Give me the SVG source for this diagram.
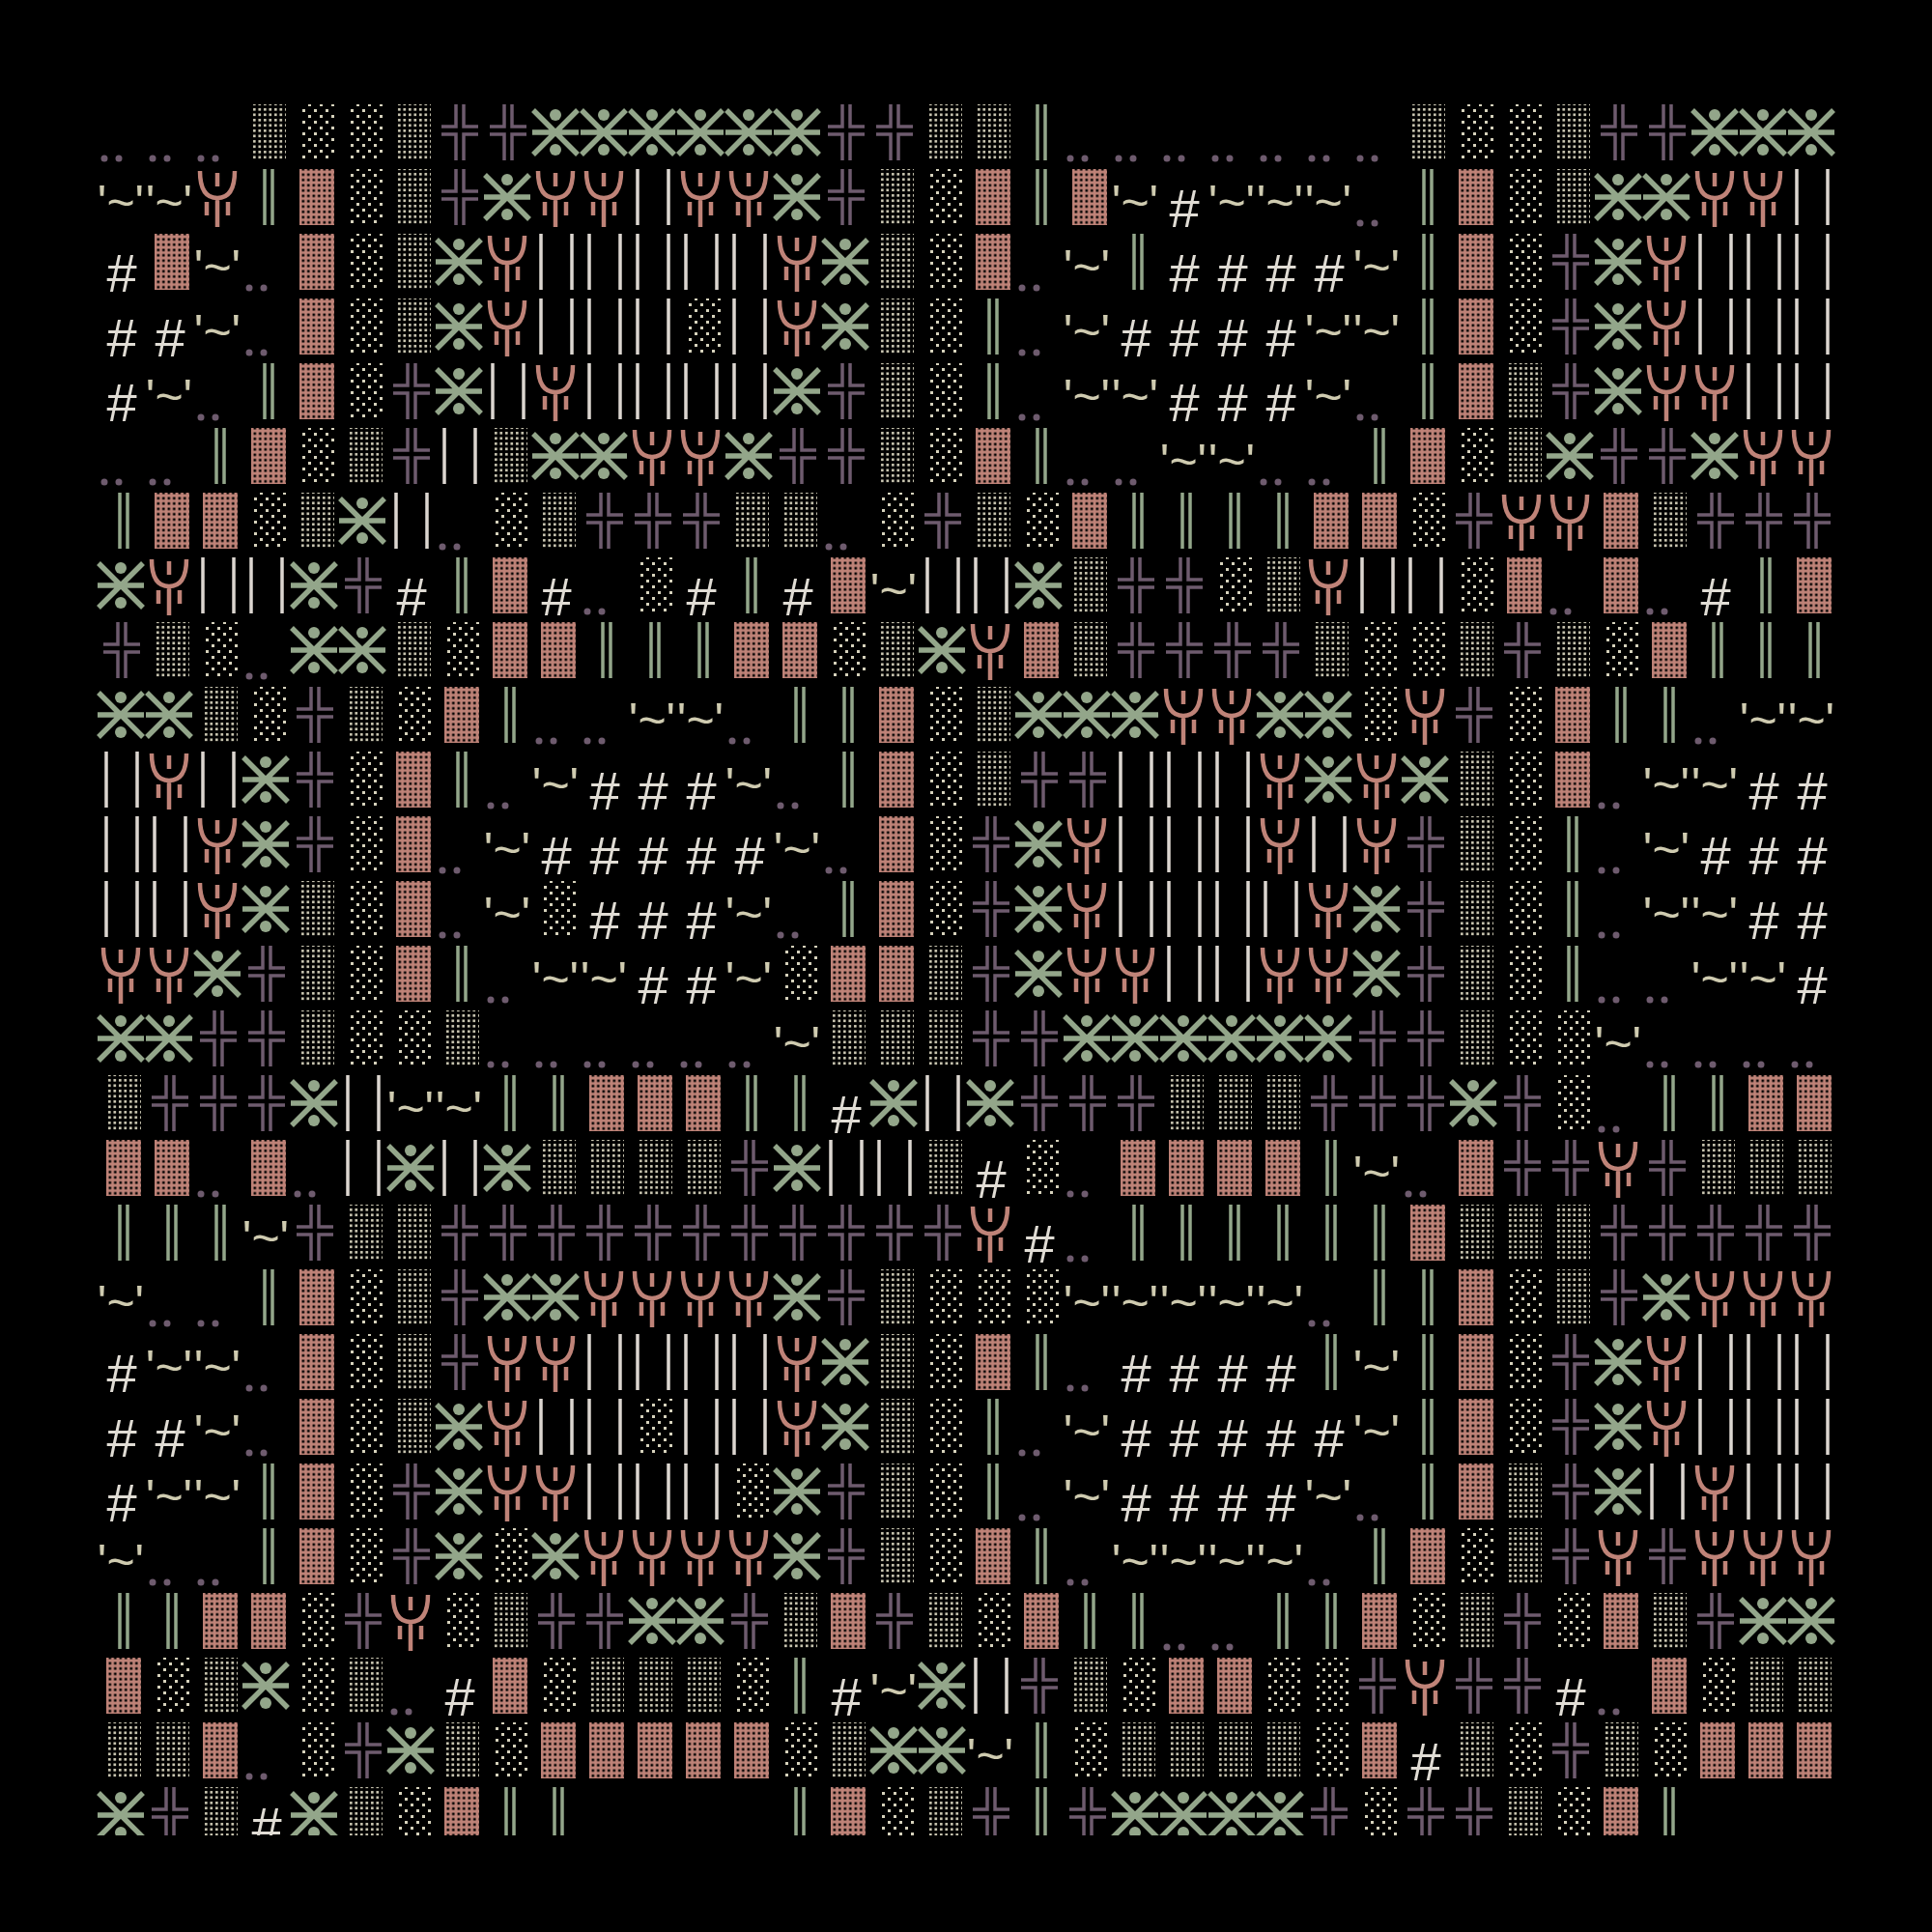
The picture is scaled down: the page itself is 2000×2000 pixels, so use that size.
<svg xmlns="http://www.w3.org/2000/svg" xmlns:xlink="http://www.w3.org/1999/xlink" width="2000" height="2000" viewBox="0 0 2000 2000">
<style>
.t{font-family:"Liberation Sans",Arial,sans-serif;font-size:50px;fill:#cfcbb0}
.h{font-family:"Liberation Sans",Arial,sans-serif;font-size:56px;fill:#e0dcd4}
</style>
<defs>
<pattern id="pd" patternUnits="userSpaceOnUse" width="5.5" height="5.5"><rect x="1" y="1" width="2.6" height="2.6" fill="#d6d2bc"/></pattern>
<pattern id="ps" patternUnits="userSpaceOnUse" width="12" height="12"><rect x="1" y="1" width="3" height="3" fill="#d6d2bc"/><rect x="7" y="7" width="3" height="3" fill="#d6d2bc"/></pattern>
<pattern id="pp" patternUnits="userSpaceOnUse" width="5.5" height="5.5"><rect width="5.5" height="5.5" fill="#bf8378"/><rect x="1.5" y="1.5" width="2.6" height="2.6" fill="#000"/></pattern>
<clipPath id="cl"><rect x="100" y="100" width="1800" height="1800"/></clipPath>
<g id="d"><rect x="10" y="8" width="36" height="58" fill="url(#pd)"/></g>
<g id="s"><rect x="10" y="8" width="36" height="58" fill="url(#ps)"/></g>
<g id="P"><rect x="10" y="8" width="36" height="58" fill="url(#pp)"/></g>
<g id="H" fill="none" stroke="#6e5b6e" stroke-width="3.5"><path d="M22 8V31H7M30 8V31H45M7 39H22V66M45 39H30V66"/></g>
<g id="X" stroke="#93a68a" stroke-width="5.5" fill="#93a68a"><path d="M2 14L48 60M48 14L2 60M1 37H49"/><circle cx="25" cy="19" r="6" stroke="none"/><circle cx="25" cy="55" r="6" stroke="none"/></g>
<g id="Y" stroke="#bf8378" stroke-width="4.5" fill="none"><path d="M7 10Q7 38 25 38Q43 38 43 10M25 38V68M25 12V26M14 42V56M36 42V56"/></g>
<g id="G" stroke="#93a68a" stroke-width="3.5"><path d="M24 8V66M32 8V66"/></g>
<g id="I" stroke="#dcd6d0" stroke-width="3.5"><path d="M10 8V66M42 8V66"/></g>
<g id="o" fill="#6e5b6e"><circle cx="8" cy="64" r="3.5"/><circle cx="23" cy="64" r="3.5"/></g>
<g id="T"><text class="t" x="25" y="60" text-anchor="middle">'~'</text></g>
<g id="S"><text class="h" x="26" y="68" text-anchor="middle">#</text></g>
</defs>
<rect width="2000" height="2000" fill="#000"/>
<g clip-path="url(#cl)">
<g transform="translate(100,100)"><use href="#o" x="0"/><use href="#o" x="50"/><use href="#o" x="100"/><use href="#d" x="150"/><use href="#s" x="200"/><use href="#s" x="250"/><use href="#d" x="300"/><use href="#H" x="350"/><use href="#H" x="400"/><use href="#X" x="450"/><use href="#X" x="500"/><use href="#X" x="550"/><use href="#X" x="600"/><use href="#X" x="650"/><use href="#X" x="700"/><use href="#H" x="750"/><use href="#H" x="800"/><use href="#d" x="850"/><use href="#d" x="900"/><use href="#G" x="950"/><use href="#o" x="1000"/><use href="#o" x="1050"/><use href="#o" x="1100"/><use href="#o" x="1150"/><use href="#o" x="1200"/><use href="#o" x="1250"/><use href="#o" x="1300"/><use href="#d" x="1350"/><use href="#s" x="1400"/><use href="#s" x="1450"/><use href="#d" x="1500"/><use href="#H" x="1550"/><use href="#H" x="1600"/><use href="#X" x="1650"/><use href="#X" x="1700"/><use href="#X" x="1750"/></g>
<g transform="translate(100,167)"><use href="#T" x="0"/><use href="#T" x="50"/><use href="#Y" x="100"/><use href="#G" x="150"/><use href="#P" x="200"/><use href="#s" x="250"/><use href="#d" x="300"/><use href="#H" x="350"/><use href="#X" x="400"/><use href="#Y" x="450"/><use href="#Y" x="500"/><use href="#I" x="550"/><use href="#Y" x="600"/><use href="#Y" x="650"/><use href="#X" x="700"/><use href="#H" x="750"/><use href="#d" x="800"/><use href="#s" x="850"/><use href="#P" x="900"/><use href="#G" x="950"/><use href="#P" x="1000"/><use href="#T" x="1050"/><use href="#S" x="1100"/><use href="#T" x="1150"/><use href="#T" x="1200"/><use href="#T" x="1250"/><use href="#o" x="1300"/><use href="#G" x="1350"/><use href="#P" x="1400"/><use href="#s" x="1450"/><use href="#d" x="1500"/><use href="#X" x="1550"/><use href="#X" x="1600"/><use href="#Y" x="1650"/><use href="#Y" x="1700"/><use href="#I" x="1750"/></g>
<g transform="translate(100,234)"><use href="#S" x="0"/><use href="#P" x="50"/><use href="#T" x="100"/><use href="#o" x="150"/><use href="#P" x="200"/><use href="#s" x="250"/><use href="#d" x="300"/><use href="#X" x="350"/><use href="#Y" x="400"/><use href="#I" x="450"/><use href="#I" x="500"/><use href="#I" x="550"/><use href="#I" x="600"/><use href="#I" x="650"/><use href="#Y" x="700"/><use href="#X" x="750"/><use href="#d" x="800"/><use href="#s" x="850"/><use href="#P" x="900"/><use href="#o" x="950"/><use href="#T" x="1000"/><use href="#G" x="1050"/><use href="#S" x="1100"/><use href="#S" x="1150"/><use href="#S" x="1200"/><use href="#S" x="1250"/><use href="#T" x="1300"/><use href="#G" x="1350"/><use href="#P" x="1400"/><use href="#s" x="1450"/><use href="#H" x="1500"/><use href="#X" x="1550"/><use href="#Y" x="1600"/><use href="#I" x="1650"/><use href="#I" x="1700"/><use href="#I" x="1750"/></g>
<g transform="translate(100,301)"><use href="#S" x="0"/><use href="#S" x="50"/><use href="#T" x="100"/><use href="#o" x="150"/><use href="#P" x="200"/><use href="#s" x="250"/><use href="#d" x="300"/><use href="#X" x="350"/><use href="#Y" x="400"/><use href="#I" x="450"/><use href="#I" x="500"/><use href="#I" x="550"/><use href="#s" x="600"/><use href="#I" x="650"/><use href="#Y" x="700"/><use href="#X" x="750"/><use href="#d" x="800"/><use href="#s" x="850"/><use href="#G" x="900"/><use href="#o" x="950"/><use href="#T" x="1000"/><use href="#S" x="1050"/><use href="#S" x="1100"/><use href="#S" x="1150"/><use href="#S" x="1200"/><use href="#T" x="1250"/><use href="#T" x="1300"/><use href="#G" x="1350"/><use href="#P" x="1400"/><use href="#s" x="1450"/><use href="#H" x="1500"/><use href="#X" x="1550"/><use href="#Y" x="1600"/><use href="#I" x="1650"/><use href="#I" x="1700"/><use href="#I" x="1750"/></g>
<g transform="translate(100,368)"><use href="#S" x="0"/><use href="#T" x="50"/><use href="#o" x="100"/><use href="#G" x="150"/><use href="#P" x="200"/><use href="#s" x="250"/><use href="#H" x="300"/><use href="#X" x="350"/><use href="#I" x="400"/><use href="#Y" x="450"/><use href="#I" x="500"/><use href="#I" x="550"/><use href="#I" x="600"/><use href="#I" x="650"/><use href="#X" x="700"/><use href="#H" x="750"/><use href="#d" x="800"/><use href="#s" x="850"/><use href="#G" x="900"/><use href="#o" x="950"/><use href="#T" x="1000"/><use href="#T" x="1050"/><use href="#S" x="1100"/><use href="#S" x="1150"/><use href="#S" x="1200"/><use href="#T" x="1250"/><use href="#o" x="1300"/><use href="#G" x="1350"/><use href="#P" x="1400"/><use href="#d" x="1450"/><use href="#H" x="1500"/><use href="#X" x="1550"/><use href="#Y" x="1600"/><use href="#Y" x="1650"/><use href="#I" x="1700"/><use href="#I" x="1750"/></g>
<g transform="translate(100,435)"><use href="#o" x="0"/><use href="#o" x="50"/><use href="#G" x="100"/><use href="#P" x="150"/><use href="#s" x="200"/><use href="#d" x="250"/><use href="#H" x="300"/><use href="#I" x="350"/><use href="#d" x="400"/><use href="#X" x="450"/><use href="#X" x="500"/><use href="#Y" x="550"/><use href="#Y" x="600"/><use href="#X" x="650"/><use href="#H" x="700"/><use href="#H" x="750"/><use href="#d" x="800"/><use href="#s" x="850"/><use href="#P" x="900"/><use href="#G" x="950"/><use href="#o" x="1000"/><use href="#o" x="1050"/><use href="#T" x="1100"/><use href="#T" x="1150"/><use href="#o" x="1200"/><use href="#o" x="1250"/><use href="#G" x="1300"/><use href="#P" x="1350"/><use href="#s" x="1400"/><use href="#d" x="1450"/><use href="#X" x="1500"/><use href="#H" x="1550"/><use href="#H" x="1600"/><use href="#X" x="1650"/><use href="#Y" x="1700"/><use href="#Y" x="1750"/></g>
<g transform="translate(100,502)"><use href="#G" x="0"/><use href="#P" x="50"/><use href="#P" x="100"/><use href="#s" x="150"/><use href="#d" x="200"/><use href="#X" x="250"/><use href="#I" x="300"/><use href="#o" x="350"/><use href="#s" x="400"/><use href="#d" x="450"/><use href="#H" x="500"/><use href="#H" x="550"/><use href="#H" x="600"/><use href="#d" x="650"/><use href="#d" x="700"/><use href="#o" x="750"/><use href="#s" x="800"/><use href="#H" x="850"/><use href="#d" x="900"/><use href="#s" x="950"/><use href="#P" x="1000"/><use href="#G" x="1050"/><use href="#G" x="1100"/><use href="#G" x="1150"/><use href="#G" x="1200"/><use href="#P" x="1250"/><use href="#P" x="1300"/><use href="#s" x="1350"/><use href="#H" x="1400"/><use href="#Y" x="1450"/><use href="#Y" x="1500"/><use href="#P" x="1550"/><use href="#d" x="1600"/><use href="#H" x="1650"/><use href="#H" x="1700"/><use href="#H" x="1750"/></g>
<g transform="translate(100,569)"><use href="#X" x="0"/><use href="#Y" x="50"/><use href="#I" x="100"/><use href="#I" x="150"/><use href="#X" x="200"/><use href="#H" x="250"/><use href="#S" x="300"/><use href="#G" x="350"/><use href="#P" x="400"/><use href="#S" x="450"/><use href="#o" x="500"/><use href="#s" x="550"/><use href="#S" x="600"/><use href="#G" x="650"/><use href="#S" x="700"/><use href="#P" x="750"/><use href="#T" x="800"/><use href="#I" x="850"/><use href="#I" x="900"/><use href="#X" x="950"/><use href="#d" x="1000"/><use href="#H" x="1050"/><use href="#H" x="1100"/><use href="#s" x="1150"/><use href="#d" x="1200"/><use href="#Y" x="1250"/><use href="#I" x="1300"/><use href="#I" x="1350"/><use href="#s" x="1400"/><use href="#P" x="1450"/><use href="#o" x="1500"/><use href="#P" x="1550"/><use href="#o" x="1600"/><use href="#S" x="1650"/><use href="#G" x="1700"/><use href="#P" x="1750"/></g>
<g transform="translate(100,636)"><use href="#H" x="0"/><use href="#d" x="50"/><use href="#s" x="100"/><use href="#o" x="150"/><use href="#X" x="200"/><use href="#X" x="250"/><use href="#d" x="300"/><use href="#s" x="350"/><use href="#P" x="400"/><use href="#P" x="450"/><use href="#G" x="500"/><use href="#G" x="550"/><use href="#G" x="600"/><use href="#P" x="650"/><use href="#P" x="700"/><use href="#s" x="750"/><use href="#d" x="800"/><use href="#X" x="850"/><use href="#Y" x="900"/><use href="#P" x="950"/><use href="#d" x="1000"/><use href="#H" x="1050"/><use href="#H" x="1100"/><use href="#H" x="1150"/><use href="#H" x="1200"/><use href="#d" x="1250"/><use href="#s" x="1300"/><use href="#s" x="1350"/><use href="#d" x="1400"/><use href="#H" x="1450"/><use href="#d" x="1500"/><use href="#s" x="1550"/><use href="#P" x="1600"/><use href="#G" x="1650"/><use href="#G" x="1700"/><use href="#G" x="1750"/></g>
<g transform="translate(100,703)"><use href="#X" x="0"/><use href="#X" x="50"/><use href="#d" x="100"/><use href="#s" x="150"/><use href="#H" x="200"/><use href="#d" x="250"/><use href="#s" x="300"/><use href="#P" x="350"/><use href="#G" x="400"/><use href="#o" x="450"/><use href="#o" x="500"/><use href="#T" x="550"/><use href="#T" x="600"/><use href="#o" x="650"/><use href="#G" x="700"/><use href="#G" x="750"/><use href="#P" x="800"/><use href="#s" x="850"/><use href="#d" x="900"/><use href="#X" x="950"/><use href="#X" x="1000"/><use href="#X" x="1050"/><use href="#Y" x="1100"/><use href="#Y" x="1150"/><use href="#X" x="1200"/><use href="#X" x="1250"/><use href="#s" x="1300"/><use href="#Y" x="1350"/><use href="#H" x="1400"/><use href="#s" x="1450"/><use href="#P" x="1500"/><use href="#G" x="1550"/><use href="#G" x="1600"/><use href="#o" x="1650"/><use href="#T" x="1700"/><use href="#T" x="1750"/></g>
<g transform="translate(100,770)"><use href="#I" x="0"/><use href="#Y" x="50"/><use href="#I" x="100"/><use href="#X" x="150"/><use href="#H" x="200"/><use href="#s" x="250"/><use href="#P" x="300"/><use href="#G" x="350"/><use href="#o" x="400"/><use href="#T" x="450"/><use href="#S" x="500"/><use href="#S" x="550"/><use href="#S" x="600"/><use href="#T" x="650"/><use href="#o" x="700"/><use href="#G" x="750"/><use href="#P" x="800"/><use href="#s" x="850"/><use href="#d" x="900"/><use href="#H" x="950"/><use href="#H" x="1000"/><use href="#I" x="1050"/><use href="#I" x="1100"/><use href="#I" x="1150"/><use href="#Y" x="1200"/><use href="#X" x="1250"/><use href="#Y" x="1300"/><use href="#X" x="1350"/><use href="#d" x="1400"/><use href="#s" x="1450"/><use href="#P" x="1500"/><use href="#o" x="1550"/><use href="#T" x="1600"/><use href="#T" x="1650"/><use href="#S" x="1700"/><use href="#S" x="1750"/></g>
<g transform="translate(100,837)"><use href="#I" x="0"/><use href="#I" x="50"/><use href="#Y" x="100"/><use href="#X" x="150"/><use href="#H" x="200"/><use href="#s" x="250"/><use href="#P" x="300"/><use href="#o" x="350"/><use href="#T" x="400"/><use href="#S" x="450"/><use href="#S" x="500"/><use href="#S" x="550"/><use href="#S" x="600"/><use href="#S" x="650"/><use href="#T" x="700"/><use href="#o" x="750"/><use href="#P" x="800"/><use href="#s" x="850"/><use href="#H" x="900"/><use href="#X" x="950"/><use href="#Y" x="1000"/><use href="#I" x="1050"/><use href="#I" x="1100"/><use href="#I" x="1150"/><use href="#Y" x="1200"/><use href="#I" x="1250"/><use href="#Y" x="1300"/><use href="#H" x="1350"/><use href="#d" x="1400"/><use href="#s" x="1450"/><use href="#G" x="1500"/><use href="#o" x="1550"/><use href="#T" x="1600"/><use href="#S" x="1650"/><use href="#S" x="1700"/><use href="#S" x="1750"/></g>
<g transform="translate(100,904)"><use href="#I" x="0"/><use href="#I" x="50"/><use href="#Y" x="100"/><use href="#X" x="150"/><use href="#d" x="200"/><use href="#s" x="250"/><use href="#P" x="300"/><use href="#o" x="350"/><use href="#T" x="400"/><use href="#s" x="450"/><use href="#S" x="500"/><use href="#S" x="550"/><use href="#S" x="600"/><use href="#T" x="650"/><use href="#o" x="700"/><use href="#G" x="750"/><use href="#P" x="800"/><use href="#s" x="850"/><use href="#H" x="900"/><use href="#X" x="950"/><use href="#Y" x="1000"/><use href="#I" x="1050"/><use href="#I" x="1100"/><use href="#I" x="1150"/><use href="#I" x="1200"/><use href="#Y" x="1250"/><use href="#X" x="1300"/><use href="#H" x="1350"/><use href="#d" x="1400"/><use href="#s" x="1450"/><use href="#G" x="1500"/><use href="#o" x="1550"/><use href="#T" x="1600"/><use href="#T" x="1650"/><use href="#S" x="1700"/><use href="#S" x="1750"/></g>
<g transform="translate(100,971)"><use href="#Y" x="0"/><use href="#Y" x="50"/><use href="#X" x="100"/><use href="#H" x="150"/><use href="#d" x="200"/><use href="#s" x="250"/><use href="#P" x="300"/><use href="#G" x="350"/><use href="#o" x="400"/><use href="#T" x="450"/><use href="#T" x="500"/><use href="#S" x="550"/><use href="#S" x="600"/><use href="#T" x="650"/><use href="#s" x="700"/><use href="#P" x="750"/><use href="#P" x="800"/><use href="#d" x="850"/><use href="#H" x="900"/><use href="#X" x="950"/><use href="#Y" x="1000"/><use href="#Y" x="1050"/><use href="#I" x="1100"/><use href="#I" x="1150"/><use href="#Y" x="1200"/><use href="#Y" x="1250"/><use href="#X" x="1300"/><use href="#H" x="1350"/><use href="#d" x="1400"/><use href="#s" x="1450"/><use href="#G" x="1500"/><use href="#o" x="1550"/><use href="#o" x="1600"/><use href="#T" x="1650"/><use href="#T" x="1700"/><use href="#S" x="1750"/></g>
<g transform="translate(100,1038)"><use href="#X" x="0"/><use href="#X" x="50"/><use href="#H" x="100"/><use href="#H" x="150"/><use href="#d" x="200"/><use href="#s" x="250"/><use href="#s" x="300"/><use href="#d" x="350"/><use href="#o" x="400"/><use href="#o" x="450"/><use href="#o" x="500"/><use href="#o" x="550"/><use href="#o" x="600"/><use href="#o" x="650"/><use href="#T" x="700"/><use href="#d" x="750"/><use href="#d" x="800"/><use href="#d" x="850"/><use href="#H" x="900"/><use href="#H" x="950"/><use href="#X" x="1000"/><use href="#X" x="1050"/><use href="#X" x="1100"/><use href="#X" x="1150"/><use href="#X" x="1200"/><use href="#X" x="1250"/><use href="#H" x="1300"/><use href="#H" x="1350"/><use href="#d" x="1400"/><use href="#s" x="1450"/><use href="#s" x="1500"/><use href="#T" x="1550"/><use href="#o" x="1600"/><use href="#o" x="1650"/><use href="#o" x="1700"/><use href="#o" x="1750"/></g>
<g transform="translate(100,1105)"><use href="#d" x="0"/><use href="#H" x="50"/><use href="#H" x="100"/><use href="#H" x="150"/><use href="#X" x="200"/><use href="#I" x="250"/><use href="#T" x="300"/><use href="#T" x="350"/><use href="#G" x="400"/><use href="#G" x="450"/><use href="#P" x="500"/><use href="#P" x="550"/><use href="#P" x="600"/><use href="#G" x="650"/><use href="#G" x="700"/><use href="#S" x="750"/><use href="#X" x="800"/><use href="#I" x="850"/><use href="#X" x="900"/><use href="#H" x="950"/><use href="#H" x="1000"/><use href="#H" x="1050"/><use href="#d" x="1100"/><use href="#d" x="1150"/><use href="#d" x="1200"/><use href="#H" x="1250"/><use href="#H" x="1300"/><use href="#H" x="1350"/><use href="#X" x="1400"/><use href="#H" x="1450"/><use href="#s" x="1500"/><use href="#o" x="1550"/><use href="#G" x="1600"/><use href="#G" x="1650"/><use href="#P" x="1700"/><use href="#P" x="1750"/></g>
<g transform="translate(100,1172)"><use href="#P" x="0"/><use href="#P" x="50"/><use href="#o" x="100"/><use href="#P" x="150"/><use href="#o" x="200"/><use href="#I" x="250"/><use href="#X" x="300"/><use href="#I" x="350"/><use href="#X" x="400"/><use href="#d" x="450"/><use href="#d" x="500"/><use href="#d" x="550"/><use href="#d" x="600"/><use href="#H" x="650"/><use href="#X" x="700"/><use href="#I" x="750"/><use href="#I" x="800"/><use href="#d" x="850"/><use href="#S" x="900"/><use href="#s" x="950"/><use href="#o" x="1000"/><use href="#P" x="1050"/><use href="#P" x="1100"/><use href="#P" x="1150"/><use href="#P" x="1200"/><use href="#G" x="1250"/><use href="#T" x="1300"/><use href="#o" x="1350"/><use href="#P" x="1400"/><use href="#H" x="1450"/><use href="#H" x="1500"/><use href="#Y" x="1550"/><use href="#H" x="1600"/><use href="#d" x="1650"/><use href="#d" x="1700"/><use href="#d" x="1750"/></g>
<g transform="translate(100,1239)"><use href="#G" x="0"/><use href="#G" x="50"/><use href="#G" x="100"/><use href="#T" x="150"/><use href="#H" x="200"/><use href="#d" x="250"/><use href="#d" x="300"/><use href="#H" x="350"/><use href="#H" x="400"/><use href="#H" x="450"/><use href="#H" x="500"/><use href="#H" x="550"/><use href="#H" x="600"/><use href="#H" x="650"/><use href="#H" x="700"/><use href="#H" x="750"/><use href="#H" x="800"/><use href="#H" x="850"/><use href="#Y" x="900"/><use href="#S" x="950"/><use href="#o" x="1000"/><use href="#G" x="1050"/><use href="#G" x="1100"/><use href="#G" x="1150"/><use href="#G" x="1200"/><use href="#G" x="1250"/><use href="#G" x="1300"/><use href="#P" x="1350"/><use href="#d" x="1400"/><use href="#d" x="1450"/><use href="#d" x="1500"/><use href="#H" x="1550"/><use href="#H" x="1600"/><use href="#H" x="1650"/><use href="#H" x="1700"/><use href="#H" x="1750"/></g>
<g transform="translate(100,1306)"><use href="#T" x="0"/><use href="#o" x="50"/><use href="#o" x="100"/><use href="#G" x="150"/><use href="#P" x="200"/><use href="#s" x="250"/><use href="#d" x="300"/><use href="#H" x="350"/><use href="#X" x="400"/><use href="#X" x="450"/><use href="#Y" x="500"/><use href="#Y" x="550"/><use href="#Y" x="600"/><use href="#Y" x="650"/><use href="#X" x="700"/><use href="#H" x="750"/><use href="#d" x="800"/><use href="#s" x="850"/><use href="#s" x="900"/><use href="#s" x="950"/><use href="#T" x="1000"/><use href="#T" x="1050"/><use href="#T" x="1100"/><use href="#T" x="1150"/><use href="#T" x="1200"/><use href="#o" x="1250"/><use href="#G" x="1300"/><use href="#G" x="1350"/><use href="#P" x="1400"/><use href="#s" x="1450"/><use href="#d" x="1500"/><use href="#H" x="1550"/><use href="#X" x="1600"/><use href="#Y" x="1650"/><use href="#Y" x="1700"/><use href="#Y" x="1750"/></g>
<g transform="translate(100,1373)"><use href="#S" x="0"/><use href="#T" x="50"/><use href="#T" x="100"/><use href="#o" x="150"/><use href="#P" x="200"/><use href="#s" x="250"/><use href="#d" x="300"/><use href="#H" x="350"/><use href="#Y" x="400"/><use href="#Y" x="450"/><use href="#I" x="500"/><use href="#I" x="550"/><use href="#I" x="600"/><use href="#I" x="650"/><use href="#Y" x="700"/><use href="#X" x="750"/><use href="#d" x="800"/><use href="#s" x="850"/><use href="#P" x="900"/><use href="#G" x="950"/><use href="#o" x="1000"/><use href="#S" x="1050"/><use href="#S" x="1100"/><use href="#S" x="1150"/><use href="#S" x="1200"/><use href="#G" x="1250"/><use href="#T" x="1300"/><use href="#G" x="1350"/><use href="#P" x="1400"/><use href="#s" x="1450"/><use href="#H" x="1500"/><use href="#X" x="1550"/><use href="#Y" x="1600"/><use href="#I" x="1650"/><use href="#I" x="1700"/><use href="#I" x="1750"/></g>
<g transform="translate(100,1440)"><use href="#S" x="0"/><use href="#S" x="50"/><use href="#T" x="100"/><use href="#o" x="150"/><use href="#P" x="200"/><use href="#s" x="250"/><use href="#d" x="300"/><use href="#X" x="350"/><use href="#Y" x="400"/><use href="#I" x="450"/><use href="#I" x="500"/><use href="#s" x="550"/><use href="#I" x="600"/><use href="#I" x="650"/><use href="#Y" x="700"/><use href="#X" x="750"/><use href="#d" x="800"/><use href="#s" x="850"/><use href="#G" x="900"/><use href="#o" x="950"/><use href="#T" x="1000"/><use href="#S" x="1050"/><use href="#S" x="1100"/><use href="#S" x="1150"/><use href="#S" x="1200"/><use href="#S" x="1250"/><use href="#T" x="1300"/><use href="#G" x="1350"/><use href="#P" x="1400"/><use href="#s" x="1450"/><use href="#H" x="1500"/><use href="#X" x="1550"/><use href="#Y" x="1600"/><use href="#I" x="1650"/><use href="#I" x="1700"/><use href="#I" x="1750"/></g>
<g transform="translate(100,1507)"><use href="#S" x="0"/><use href="#T" x="50"/><use href="#T" x="100"/><use href="#G" x="150"/><use href="#P" x="200"/><use href="#s" x="250"/><use href="#H" x="300"/><use href="#X" x="350"/><use href="#Y" x="400"/><use href="#Y" x="450"/><use href="#I" x="500"/><use href="#I" x="550"/><use href="#I" x="600"/><use href="#s" x="650"/><use href="#X" x="700"/><use href="#H" x="750"/><use href="#d" x="800"/><use href="#s" x="850"/><use href="#G" x="900"/><use href="#o" x="950"/><use href="#T" x="1000"/><use href="#S" x="1050"/><use href="#S" x="1100"/><use href="#S" x="1150"/><use href="#S" x="1200"/><use href="#T" x="1250"/><use href="#o" x="1300"/><use href="#G" x="1350"/><use href="#P" x="1400"/><use href="#d" x="1450"/><use href="#H" x="1500"/><use href="#X" x="1550"/><use href="#I" x="1600"/><use href="#Y" x="1650"/><use href="#I" x="1700"/><use href="#I" x="1750"/></g>
<g transform="translate(100,1574)"><use href="#T" x="0"/><use href="#o" x="50"/><use href="#o" x="100"/><use href="#G" x="150"/><use href="#P" x="200"/><use href="#s" x="250"/><use href="#H" x="300"/><use href="#X" x="350"/><use href="#s" x="400"/><use href="#X" x="450"/><use href="#Y" x="500"/><use href="#Y" x="550"/><use href="#Y" x="600"/><use href="#Y" x="650"/><use href="#X" x="700"/><use href="#H" x="750"/><use href="#d" x="800"/><use href="#s" x="850"/><use href="#P" x="900"/><use href="#G" x="950"/><use href="#o" x="1000"/><use href="#T" x="1050"/><use href="#T" x="1100"/><use href="#T" x="1150"/><use href="#T" x="1200"/><use href="#o" x="1250"/><use href="#G" x="1300"/><use href="#P" x="1350"/><use href="#s" x="1400"/><use href="#d" x="1450"/><use href="#H" x="1500"/><use href="#Y" x="1550"/><use href="#H" x="1600"/><use href="#Y" x="1650"/><use href="#Y" x="1700"/><use href="#Y" x="1750"/></g>
<g transform="translate(100,1641)"><use href="#G" x="0"/><use href="#G" x="50"/><use href="#P" x="100"/><use href="#P" x="150"/><use href="#s" x="200"/><use href="#H" x="250"/><use href="#Y" x="300"/><use href="#s" x="350"/><use href="#d" x="400"/><use href="#H" x="450"/><use href="#H" x="500"/><use href="#X" x="550"/><use href="#X" x="600"/><use href="#H" x="650"/><use href="#d" x="700"/><use href="#P" x="750"/><use href="#H" x="800"/><use href="#d" x="850"/><use href="#s" x="900"/><use href="#P" x="950"/><use href="#G" x="1000"/><use href="#G" x="1050"/><use href="#o" x="1100"/><use href="#o" x="1150"/><use href="#G" x="1200"/><use href="#G" x="1250"/><use href="#P" x="1300"/><use href="#s" x="1350"/><use href="#d" x="1400"/><use href="#H" x="1450"/><use href="#s" x="1500"/><use href="#P" x="1550"/><use href="#d" x="1600"/><use href="#H" x="1650"/><use href="#X" x="1700"/><use href="#X" x="1750"/></g>
<g transform="translate(100,1708)"><use href="#P" x="0"/><use href="#s" x="50"/><use href="#d" x="100"/><use href="#X" x="150"/><use href="#s" x="200"/><use href="#d" x="250"/><use href="#o" x="300"/><use href="#S" x="350"/><use href="#P" x="400"/><use href="#s" x="450"/><use href="#d" x="500"/><use href="#d" x="550"/><use href="#d" x="600"/><use href="#s" x="650"/><use href="#G" x="700"/><use href="#S" x="750"/><use href="#T" x="800"/><use href="#X" x="850"/><use href="#I" x="900"/><use href="#H" x="950"/><use href="#d" x="1000"/><use href="#s" x="1050"/><use href="#P" x="1100"/><use href="#P" x="1150"/><use href="#s" x="1200"/><use href="#s" x="1250"/><use href="#H" x="1300"/><use href="#Y" x="1350"/><use href="#H" x="1400"/><use href="#H" x="1450"/><use href="#S" x="1500"/><use href="#o" x="1550"/><use href="#P" x="1600"/><use href="#s" x="1650"/><use href="#d" x="1700"/><use href="#d" x="1750"/></g>
<g transform="translate(100,1775)"><use href="#d" x="0"/><use href="#d" x="50"/><use href="#P" x="100"/><use href="#o" x="150"/><use href="#s" x="200"/><use href="#H" x="250"/><use href="#X" x="300"/><use href="#d" x="350"/><use href="#s" x="400"/><use href="#P" x="450"/><use href="#P" x="500"/><use href="#P" x="550"/><use href="#P" x="600"/><use href="#P" x="650"/><use href="#s" x="700"/><use href="#d" x="750"/><use href="#X" x="800"/><use href="#X" x="850"/><use href="#T" x="900"/><use href="#G" x="950"/><use href="#s" x="1000"/><use href="#d" x="1050"/><use href="#d" x="1100"/><use href="#d" x="1150"/><use href="#d" x="1200"/><use href="#s" x="1250"/><use href="#P" x="1300"/><use href="#S" x="1350"/><use href="#d" x="1400"/><use href="#s" x="1450"/><use href="#H" x="1500"/><use href="#d" x="1550"/><use href="#s" x="1600"/><use href="#P" x="1650"/><use href="#P" x="1700"/><use href="#P" x="1750"/></g>
<g transform="translate(100,1842)"><use href="#X" x="0"/><use href="#H" x="50"/><use href="#d" x="100"/><use href="#S" x="150"/><use href="#X" x="200"/><use href="#d" x="250"/><use href="#s" x="300"/><use href="#P" x="350"/><use href="#G" x="400"/><use href="#G" x="450"/><use href="#G" x="700"/><use href="#P" x="750"/><use href="#s" x="800"/><use href="#d" x="850"/><use href="#H" x="900"/><use href="#G" x="950"/><use href="#H" x="1000"/><use href="#X" x="1050"/><use href="#X" x="1100"/><use href="#X" x="1150"/><use href="#X" x="1200"/><use href="#H" x="1250"/><use href="#s" x="1300"/><use href="#H" x="1350"/><use href="#H" x="1400"/><use href="#d" x="1450"/><use href="#s" x="1500"/><use href="#P" x="1550"/><use href="#G" x="1600"/></g>
</g>
</svg>
